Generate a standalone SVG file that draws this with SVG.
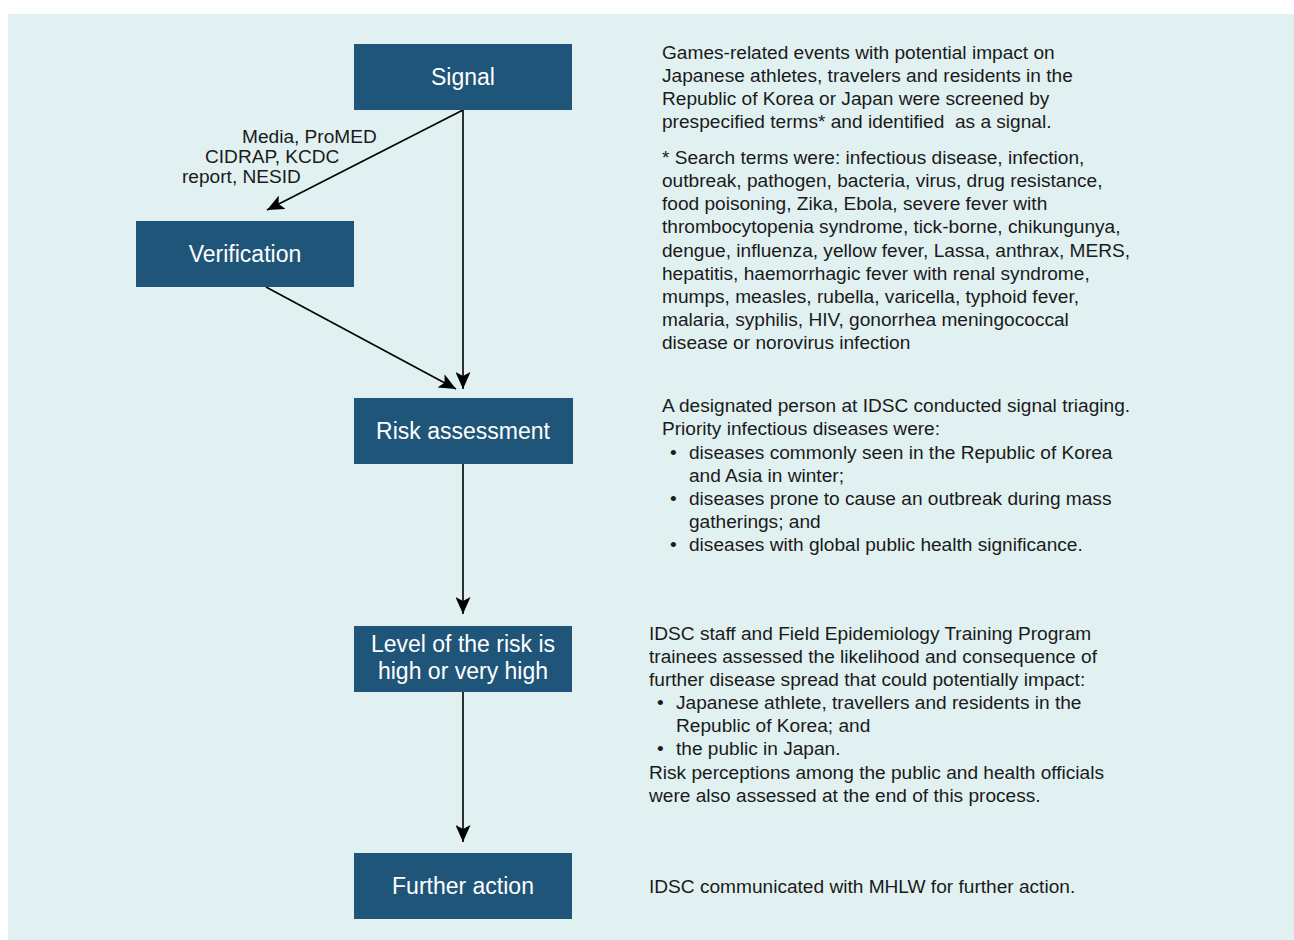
<svg xmlns="http://www.w3.org/2000/svg" width="1294" height="940" viewBox="0 0 1294 940">
<defs>
<style>
.node rect{fill:#1f5579;}
.node text{fill:#ffffff;font-family:"Liberation Sans",Arial,sans-serif;font-size:23px;text-anchor:middle;}
.conn line{stroke:#000;stroke-width:1.6;fill:none;}
.lbl{fill:#1a1a1a;font-family:"Liberation Sans",Arial,sans-serif;font-size:19.1px;}
</style>
<marker id="ah2" viewBox="0 0 17 15" refX="17" refY="7.5" markerWidth="17" markerHeight="15" markerUnits="userSpaceOnUse" orient="auto">
<path d="M0,0 L17,7.5 L0,15 L4,7.5 z" fill="#000"/>
</marker>
</defs>
<rect x="8" y="14" width="1286" height="926" fill="#e1f1f1"/>

<g id="connectors" class="conn">
<line x1="463" y1="110" x2="267" y2="210" marker-end="url(#ah2)"/>
<line x1="463" y1="110" x2="463" y2="389" marker-end="url(#ah2)"/>
<line x1="266" y1="287" x2="456" y2="389" marker-end="url(#ah2)"/>
<line x1="463" y1="464" x2="463" y2="614" marker-end="url(#ah2)"/>
<line x1="463" y1="692" x2="463" y2="842" marker-end="url(#ah2)"/>
</g>

<g id="source-label" class="lbl">
<text x="242" y="143">Media, ProMED</text>
<text x="205" y="163">CIDRAP, KCDC</text>
<text x="182" y="183">report, NESID</text>
</g>

<g id="signal" class="node">
<rect x="354" y="44" width="218" height="66"/>
<text x="463" y="85">Signal</text>
</g>
<g id="verification" class="node">
<rect x="136" y="221" width="218" height="66"/>
<text x="245" y="262">Verification</text>
</g>
<g id="risk-assessment" class="node">
<rect x="354" y="398" width="219" height="66"/>
<text x="463" y="439">Risk assessment</text>
</g>
<g id="level" class="node">
<rect x="354" y="626" width="218" height="66"/>
<text x="463" y="652">Level of the risk is</text>
<text x="463" y="679">high or very high</text>
</g>
<g id="further-action" class="node">
<rect x="354" y="853" width="218" height="66"/>
<text x="463" y="894">Further action</text>
</g>

<g id="signal-desc" class="lbl">
<text x="662" y="59">Games-related events with potential impact on</text>
<text x="662" y="82">Japanese athletes, travelers and residents in the</text>
<text x="662" y="105">Republic of Korea or Japan were screened by</text>
<text x="662" y="128" xml:space="preserve">prespecified terms* and identified  as a signal.</text>
<text x="662" y="164">* Search terms were: infectious disease, infection,</text>
<text x="662" y="187">outbreak, pathogen, bacteria, virus, drug resistance,</text>
<text x="662" y="210">food poisoning, Zika, Ebola, severe fever with</text>
<text x="662" y="233">thrombocytopenia syndrome, tick-borne, chikungunya,</text>
<text x="662" y="257">dengue, influenza, yellow fever, Lassa, anthrax, MERS,</text>
<text x="662" y="280">hepatitis, haemorrhagic fever with renal syndrome,</text>
<text x="662" y="303">mumps, measles, rubella, varicella, typhoid fever,</text>
<text x="662" y="326">malaria, syphilis, HIV, gonorrhea meningococcal</text>
<text x="662" y="349">disease or norovirus infection</text>
</g>

<g id="risk-desc" class="lbl">
<text x="662" y="412">A designated person at IDSC conducted signal triaging.</text>
<text x="662" y="435">Priority infectious diseases were:</text>
<text x="670" y="459">•</text>
<text x="689" y="459">diseases commonly seen in the Republic of Korea</text>
<text x="689" y="482">and Asia in winter;</text>
<text x="670" y="505">•</text>
<text x="689" y="505">diseases prone to cause an outbreak during mass</text>
<text x="689" y="528">gatherings; and</text>
<text x="670" y="551">•</text>
<text x="689" y="551">diseases with global public health significance.</text>
</g>

<g id="level-desc" class="lbl">
<text x="649" y="640">IDSC staff and Field Epidemiology Training Program</text>
<text x="649" y="663">trainees assessed the likelihood and consequence of</text>
<text x="649" y="686">further disease spread that could potentially impact:</text>
<text x="657" y="709">•</text>
<text x="676" y="709">Japanese athlete, travellers and residents in the</text>
<text x="676" y="732">Republic of Korea; and</text>
<text x="657" y="755">•</text>
<text x="676" y="755">the public in Japan.</text>
<text x="649" y="779">Risk perceptions among the public and health officials</text>
<text x="649" y="802">were also assessed at the end of this process.</text>
</g>

<g id="action-desc" class="lbl">
<text x="649" y="893">IDSC communicated with MHLW for further action.</text>
</g>
</svg>
